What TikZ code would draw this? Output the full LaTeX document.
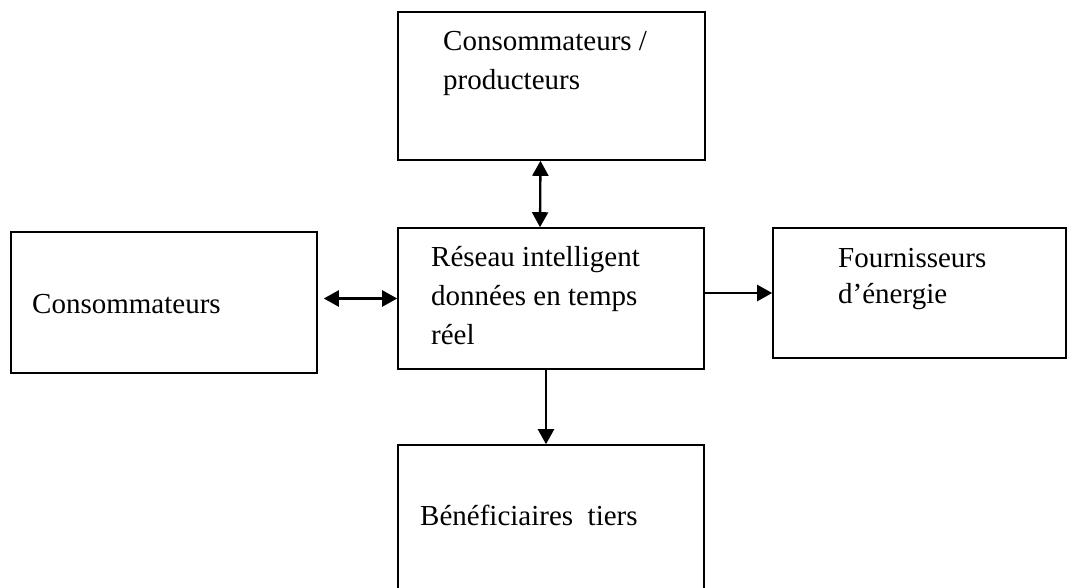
\documentclass[tikz,border=0pt]{standalone}
\usepackage{fontspec}
\setmainfont{Liberation Serif}
\usetikzlibrary{arrows.meta}
\begin{document}
\begin{tikzpicture}[x=1pt,y=-1pt,
  box/.style={draw,line width=1.6pt,rectangle,inner sep=0pt},
  lbl/.style={anchor=base west,inner sep=0pt,font=\fontsize{29}{39}\selectfont},
  tip/.tip={Triangle[length=15pt,width=16pt]},
  link/.style={line width=2.3pt,-tip},
  dlink/.style={line width=2.3pt,tip-tip}]
\useasboundingbox (0,0) rectangle (1069,587);
\clip (0,0) rectangle (1069,587);

% boxes
\node[box,minimum width=307pt,minimum height=148pt] (top) at (551.5,86) {};
\node[box,minimum width=306pt,minimum height=141pt] (mid) at (551,298.5) {};
\node[box,minimum width=306pt,minimum height=141pt] (left) at (164,302.5) {};
\node[box,minimum width=293pt,minimum height=130pt] (right) at (919.5,293) {};
\node[box,minimum width=306pt,minimum height=200pt] (bot) at (551,545) {};

% labels
\node[lbl] (top1) at (443,50) {Consommateurs /};
\node[lbl] (top2) at (443,89) {producteurs};
\node[lbl] (mid1) at (431,266) {Réseau intelligent};
\node[lbl] (mid2) at (431,305) {données en temps};
\node[lbl] (mid3) at (431,344) {réel};
\node[lbl] (left1) at (32,313) {Consommateurs};
\node[lbl] (right1) at (838,267) {Fournisseurs};
\node[lbl] (right2) at (838,303) {d’énergie};
\node[lbl] (bot1) at (420,525) {Bénéficiaires\ \ tiers};

% connectors
\draw[dlink] ([xshift=-11pt]top.south) -- ([xshift=-11pt]mid.north);
\draw[dlink] ([xshift=6pt]left.east |- mid.west) -- (mid.west);
\draw[link] (mid.east |- right.west) -- (right.west);
\draw[link] ([xshift=-5pt]mid.south) -- ([xshift=-5pt]bot.north);
\end{tikzpicture}
\end{document}
